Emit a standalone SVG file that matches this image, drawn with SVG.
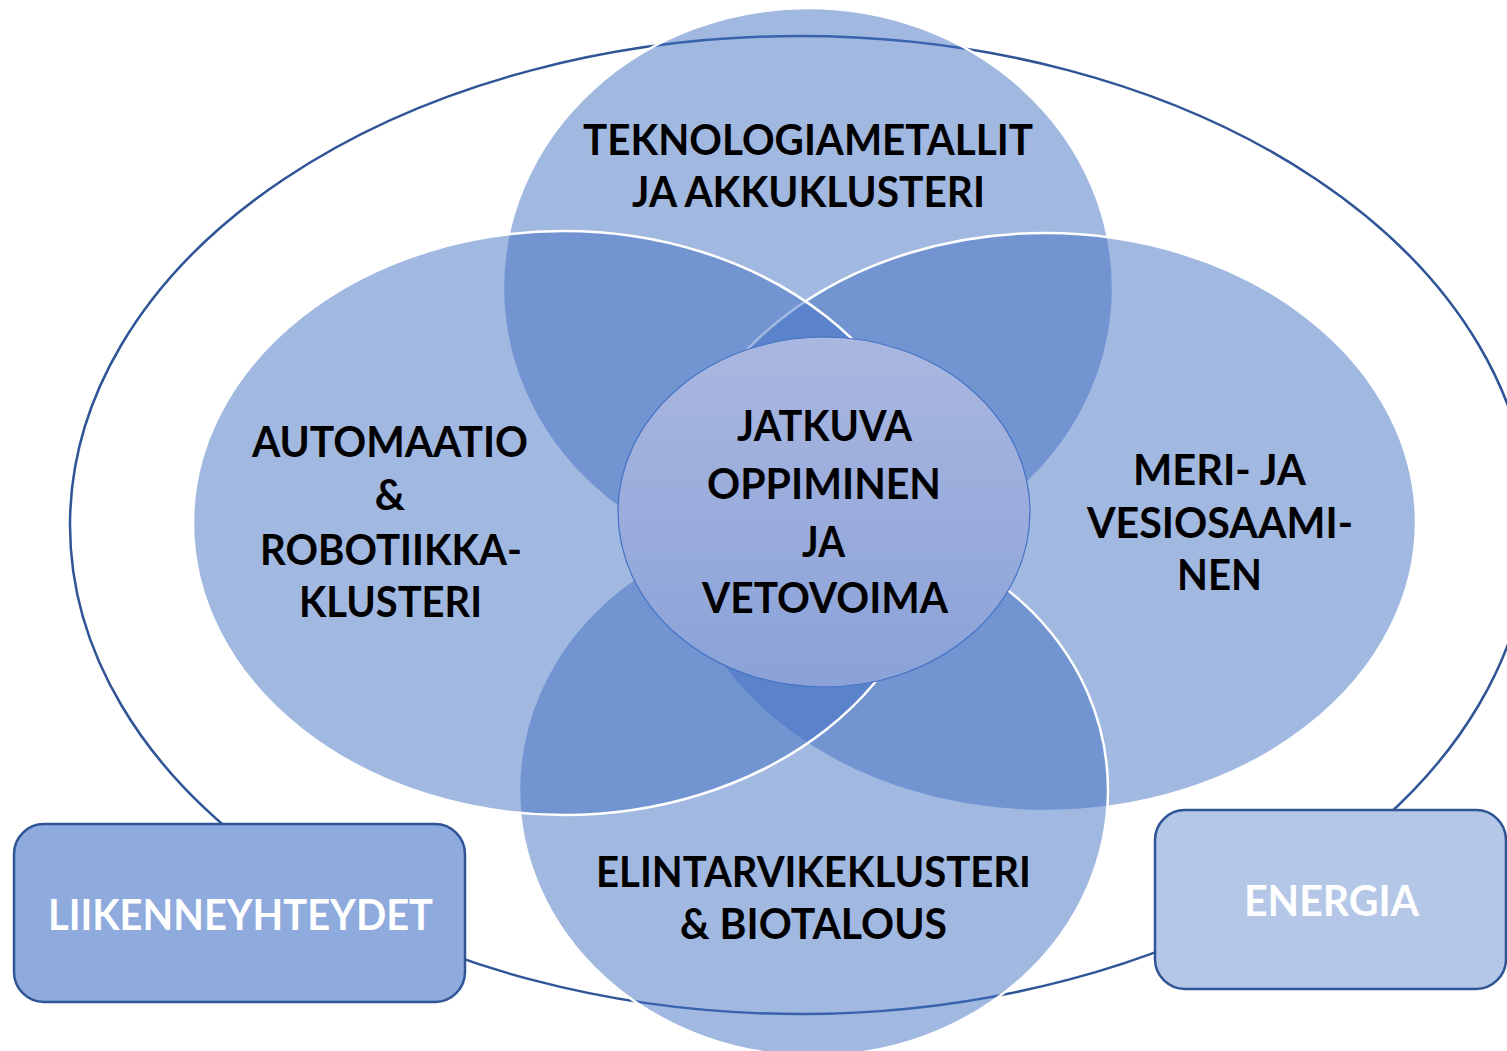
<svg xmlns="http://www.w3.org/2000/svg" width="1507" height="1051" viewBox="0 0 1507 1051">
<defs>
<linearGradient id="centerGrad" x1="0" y1="0" x2="0" y2="1">
<stop offset="0" stop-color="#aab7e0"/>
<stop offset="1" stop-color="#8aa2d8"/>
</linearGradient>
<style>
.cluster{fill:#4472c4;fill-opacity:0.5;stroke:#ffffff;stroke-width:2.5}
.outer{fill:#ffffff;stroke:#2f5597;stroke-width:2.5}
.box{stroke:#2f5597;stroke-width:2.5}
.lbl{font-family:Lato,"Open Sans","Liberation Sans",sans-serif;font-weight:700;font-size:42px;fill:#000000;text-anchor:middle}
.wlbl{font-family:Lato,"Open Sans","Liberation Sans",sans-serif;font-weight:700;font-size:42px;fill:#ffffff;text-anchor:middle}
</style>
</defs>
<rect x="0" y="0" width="1507" height="1051" fill="#ffffff"/>
<g id="outer-ellipse">
<ellipse class="outer" cx="800" cy="525" rx="730" ry="489"/>
</g>
<g id="connectors"></g>
<g id="teknologiametallit">
<ellipse class="cluster" cx="808" cy="288" rx="305" ry="280"/>
<text class="lbl" x="808" y="155" textLength="450" lengthAdjust="spacingAndGlyphs">TEKNOLOGIAMETALLIT</text>
<text class="lbl" x="808.5" y="207" textLength="353" lengthAdjust="spacingAndGlyphs">JA AKKUKLUSTERI</text>
</g>
<g id="meri-ja-vesiosaaminen">
<ellipse class="cluster" cx="1045" cy="522" rx="371" ry="289"/>
<text class="lbl" x="1219.5" y="485" textLength="173" lengthAdjust="spacingAndGlyphs">MERI- JA</text>
<text class="lbl" x="1220" y="538" textLength="266" lengthAdjust="spacingAndGlyphs">VESIOSAAMI-</text>
<text class="lbl" x="1219.5" y="590" textLength="85" lengthAdjust="spacingAndGlyphs">NEN</text>
</g>
<g id="elintarvikeklusteri">
<ellipse class="cluster" cx="813.5" cy="790" rx="294.5" ry="266"/>
<text class="lbl" x="813.5" y="887" textLength="435" lengthAdjust="spacingAndGlyphs">ELINTARVIKEKLUSTERI</text>
<text class="lbl" x="813.5" y="939" textLength="267" lengthAdjust="spacingAndGlyphs">&amp; BIOTALOUS</text>
</g>
<g id="automaatio-robotiikka">
<ellipse class="cluster" cx="564" cy="523" rx="371" ry="292"/>
<text class="lbl" x="390" y="457" textLength="276" lengthAdjust="spacingAndGlyphs">AUTOMAATIO</text>
<text class="lbl" x="390" y="510">&amp;</text>
<text class="lbl" x="391" y="565" textLength="262" lengthAdjust="spacingAndGlyphs">ROBOTIIKKA-</text>
<text class="lbl" x="390.5" y="617" textLength="183" lengthAdjust="spacingAndGlyphs">KLUSTERI</text>
</g>
<g id="jatkuva-oppiminen">
<ellipse cx="824" cy="512" rx="206" ry="175" fill="url(#centerGrad)" stroke="#4472c4" stroke-width="1.2"/>
<text class="lbl" x="824.5" y="441" textLength="175" lengthAdjust="spacingAndGlyphs">JATKUVA</text>
<text class="lbl" x="824" y="499" textLength="234" lengthAdjust="spacingAndGlyphs">OPPIMINEN</text>
<text class="lbl" x="823.5" y="557" textLength="43" lengthAdjust="spacingAndGlyphs">JA</text>
<text class="lbl" x="825" y="613" textLength="246" lengthAdjust="spacingAndGlyphs">VETOVOIMA</text>
</g>
<g id="liikenneyhteydet">
<rect class="box" x="14" y="824" width="451" height="178" rx="30" ry="30" fill="#8faadc"/>
<text class="wlbl" x="240.5" y="930" textLength="385" lengthAdjust="spacingAndGlyphs">LIIKENNEYHTEYDET</text>
</g>
<g id="energia">
<rect class="box" x="1155" y="810" width="351" height="179" rx="30" ry="30" fill="#b4c7e7"/>
<text class="wlbl" x="1331.5" y="916" textLength="175" lengthAdjust="spacingAndGlyphs">ENERGIA</text>
</g>
</svg>
